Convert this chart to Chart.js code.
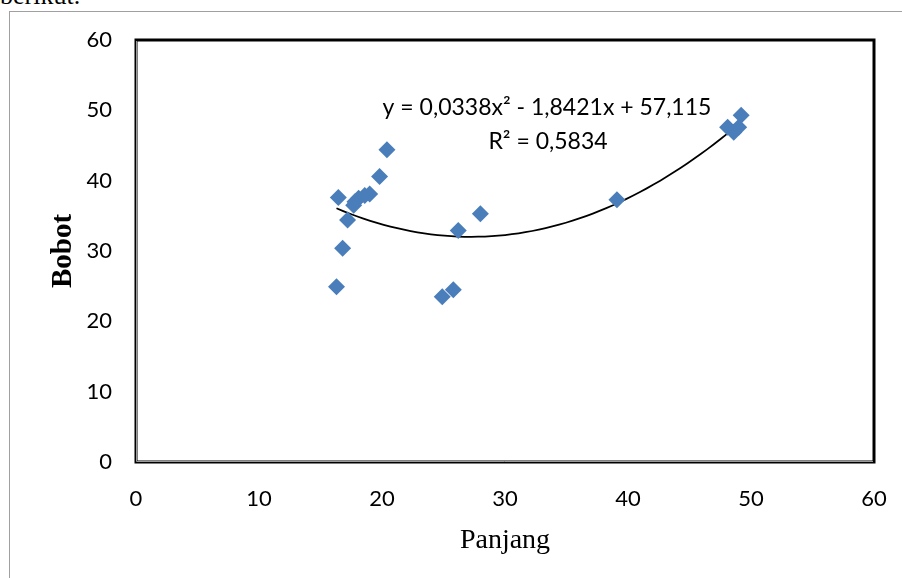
<!DOCTYPE html>
<html><head><meta charset="utf-8">
<script src="https://cdn.jsdelivr.net/npm/chart.js@4"></script>
<style>
html,body{margin:0;padding:0;background:#fff;width:902px;height:578px;overflow:hidden;}
#wrap{position:relative;width:902px;height:578px;overflow:hidden;}
#frame{position:absolute;left:9px;top:11px;width:920px;height:620px;border:1px solid #a0a0a0;}
#doc{position:absolute;left:0;top:-19px;font-family:"Liberation Serif";font-size:26px;line-height:30px;}
canvas{position:absolute;left:0;top:0;}
</style></head>
<body><div id="wrap"><div id="doc">berikut.</div><div id="frame"></div><canvas id="c" width="902" height="578"></canvas></div>
<script>
const panjang = [16.45, 16.3, 16.8, 17.2, 17.7, 17.8, 18.1, 18.6, 19.0, 19.8, 20.4, 24.9, 25.8, 26.2, 28.0, 39.1, 48.1, 48.6, 49.0, 49.2];
const bobot   = [37.6, 24.9, 30.4, 34.4, 36.5, 37.0, 37.5, 37.9, 38.1, 40.6, 44.4, 23.5, 24.5, 32.9, 35.3, 37.3, 47.6, 46.9, 47.6, 49.3];
const trendCoef = [0.0338, -1.8421, 57.115];
const equationLines = ["y = 0,0338x\u00B2 - 1,8421x + 57,115", "R\u00B2 = 0,5834"];
const xTitle = "Panjang";
const yTitle = "Bobot";

const points = panjang.map((x, i) => ({x: x, y: bobot[i]}));
const xMin = Math.min(...panjang), xMax = Math.max(...panjang);
const trend = [];
for (let k = 0; k <= 60; k++) {
  const x = xMin + (xMax - xMin) * k / 60;
  trend.push({x: x, y: trendCoef[0]*x*x + trendCoef[1]*x + trendCoef[2]});
}

const frame = {
  id: 'frame',
  afterDatasetsDraw(chart) {
    const {ctx, chartArea: a} = chart;
    ctx.save();
    ctx.strokeStyle = '#000';
    ctx.lineWidth = 3;
    ctx.strokeRect(a.left, a.top, a.right - a.left, a.bottom - a.top);
    ctx.strokeStyle = '#9a9a9a';
    ctx.lineWidth = 1;
    ctx.beginPath();
    ctx.moveTo(a.left + 0.5, a.top + 1); ctx.lineTo(a.left + 0.5, a.bottom - 0.5);
    ctx.lineTo(a.right - 1, a.bottom - 0.5);
    ctx.stroke();
    ctx.restore();
  },
  afterDraw(chart) {
    const {ctx} = chart;
    ctx.save();
    ctx.fillStyle = '#000';
    ctx.font = '23px Lato';
    ctx.textAlign = 'center';
    ctx.textBaseline = 'middle';
    ctx.fillText(equationLines[0], 547, 108);
    ctx.fillText(equationLines[1], 548, 142);
    ctx.restore();
  }
};

new Chart(document.getElementById('c'), {
  type: 'scatter',
  data: {
    datasets: [
      {
        data: trend, showLine: true, borderColor: '#000', borderWidth: 1.75,
        pointRadius: 0, tension: 0, order: 2
      },
      {
        data: points, pointStyle: 'rectRot', pointRadius: 8.5, pointHoverRadius: 8.5,
        backgroundColor: '#4A7EBB', borderColor: '#4A7EBB', borderWidth: 0, order: 1
      }
    ]
  },
  options: {
    responsive: false, animation: false, devicePixelRatio: 1,
    layout: {padding: {left: 46, top: 40, right: 28, bottom: 0}},
    plugins: {legend: {display: false}, tooltip: {enabled: false}},
    scales: {
      x: {
        type: 'linear', min: 0, max: 60,
        ticks: {stepSize: 10, color: '#000', font: {family: 'Lato', size: 22}, padding: 24},
        grid: {display: false, drawTicks: false}, border: {display: false},
        title: {display: true, text: xTitle, color: '#000', font: {family: 'Liberation Serif', size: 28}, padding: {top: 4, bottom: 21}},
        afterFit(s) { s.height = 116; s.paddingRight = 0; s.paddingLeft = 0; }
      },
      y: {
        type: 'linear', min: 0, max: 60,
        ticks: {stepSize: 10, color: '#000', font: {family: 'Lato', size: 22}, padding: 24},
        grid: {display: false, drawTicks: false}, border: {display: false},
        title: {display: true, text: yTitle, color: '#000', font: {family: 'Liberation Serif', size: 29, weight: 'bold'}, padding: {top: 0, bottom: 0}},
        afterFit(s) { s.width = 90; s.paddingTop = 0; s.paddingBottom = 0; }
      }
    }
  },
  plugins: [frame]
});
</script>
</body></html>
